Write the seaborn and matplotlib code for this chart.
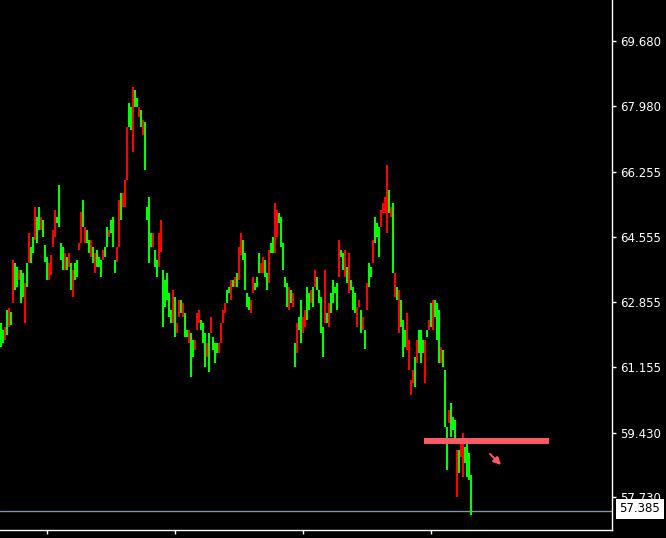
import numpy as np
import matplotlib
matplotlib.use("Agg")
import matplotlib.pyplot as plt
import matplotlib.transforms as mtransforms
import seaborn as sns

# candle extents (high / low) and direction, one per bar
bar_high = [62.30, 62.11, 62.19, 62.64, 62.69, 62.58, 63.95, 63.87, 63.76, 63.68,
            63.68, 63.61, 63.34, 63.87, 64.65, 64.29, 64.55, 65.33, 65.07, 65.33,
            65.07, 64.99, 64.34, 64.03, 63.87, 64.08, 64.73, 65.26, 65.07, 65.91,
            64.39, 64.29, 64.13, 64.03, 64.13, 63.87, 63.68, 63.87, 63.95, 64.39,
            65.20, 65.52, 64.81, 64.73, 64.47, 64.47, 64.29, 64.13, 64.21, 64.03,
            63.95, 64.21, 64.29, 64.81, 64.73, 64.99, 65.07, 63.95, 64.29, 65.52,
            65.70, 65.70, 66.04, 67.43, 68.06, 67.95, 68.48, 68.40, 68.19, 67.95,
            67.87, 67.61, 67.56, 65.33, 65.60, 64.65, 64.65, 64.21, 63.95, 64.65,
            64.99, 63.68, 63.42, 63.61, 63.08, 62.64, 63.16, 62.98, 62.30, 62.90,
            62.90, 62.82, 62.56, 62.11, 62.11, 62.04, 61.85, 61.85, 62.56, 62.64,
            62.38, 62.30, 62.04, 61.77, 62.04, 62.45, 61.93, 61.77, 61.77, 61.77,
            62.30, 62.64, 62.82, 63.16, 63.24, 63.42, 63.42, 63.50, 63.61, 64.29,
            64.65, 64.47, 64.13, 63.08, 62.98, 62.90, 63.50, 63.34, 63.50, 64.13,
            63.87, 64.03, 63.95, 63.61, 64.21, 64.39, 64.55, 65.44, 65.26, 65.18,
            65.07, 64.39, 63.50, 63.34, 63.24, 63.16, 63.08, 61.77, 62.30, 62.45,
            62.90, 62.45, 62.64, 63.24, 63.08, 63.16, 63.24, 63.68, 63.50, 63.16,
            62.98, 62.19, 63.68, 62.56, 62.82, 63.08, 63.42, 63.24, 63.34, 64.47,
            64.21, 64.13, 64.21, 63.76, 64.13, 63.42, 63.24, 63.08, 62.72, 62.90,
            62.64, 62.45, 62.11, 63.34, 63.87, 63.76, 64.47, 65.07, 64.92, 64.81,
            65.26, 65.44, 65.60, 66.43, 65.78, 65.33, 65.44, 63.61, 63.24, 63.16,
            62.90, 62.38, 62.11, 62.56, 61.85, 60.81, 61.07, 61.41, 61.85, 62.11,
            62.11, 61.85, 61.85, 62.11, 62.38, 62.82, 62.90, 62.90, 62.82, 62.64,
            61.67, 61.59, 61.07, 59.57, 60.02, 60.20, 59.84, 59.76, 58.97, 58.97,
            59.16, 59.42, 59.05, 59.16, 58.89, 58.32]

bar_low = [61.67, 61.77, 61.85, 61.98, 62.19, 62.24, 62.82, 63.16, 63.24, 63.42,
           62.82, 62.98, 62.30, 63.24, 63.87, 63.87, 64.13, 64.47, 64.39, 64.73,
           64.73, 64.55, 63.90, 63.42, 63.42, 63.55, 64.29, 64.55, 64.92, 64.81,
           63.95, 63.68, 63.68, 63.68, 63.76, 63.16, 62.98, 63.42, 63.50, 64.21,
           64.39, 64.81, 64.39, 64.39, 64.13, 64.03, 63.87, 63.61, 63.76, 63.76,
           63.50, 63.95, 64.03, 64.29, 64.55, 64.65, 64.29, 63.61, 63.90, 64.29,
           64.99, 65.33, 65.33, 66.04, 67.43, 67.35, 66.77, 67.95, 67.95, 67.69,
           67.43, 67.22, 66.30, 64.99, 63.87, 64.29, 64.29, 63.76, 63.50, 63.76,
           64.16, 62.19, 62.72, 62.90, 62.45, 62.30, 62.30, 61.93, 62.04, 62.45,
           62.56, 62.45, 61.93, 61.93, 61.77, 60.88, 61.41, 61.59, 62.11, 62.30,
           62.11, 61.77, 61.15, 61.41, 61.01, 62.04, 61.59, 61.25, 61.51, 61.51,
           61.77, 62.30, 62.56, 62.82, 63.08, 62.90, 63.24, 63.24, 63.24, 63.42,
           64.08, 63.95, 63.16, 62.72, 62.64, 62.56, 63.08, 63.16, 63.24, 63.61,
           63.61, 63.61, 63.50, 63.16, 63.34, 64.13, 64.13, 64.13, 64.55, 64.92,
           64.29, 63.68, 63.24, 62.72, 62.64, 62.82, 62.72, 61.15, 61.51, 62.11,
           61.77, 62.04, 62.19, 62.38, 62.64, 62.82, 62.72, 63.24, 63.16, 62.82,
           62.04, 61.41, 62.30, 62.30, 62.19, 62.56, 62.82, 63.08, 62.64, 63.50,
           64.03, 63.68, 63.50, 63.34, 63.08, 63.16, 62.64, 62.56, 62.19, 62.72,
           62.04, 62.11, 61.62, 62.64, 63.24, 63.50, 63.87, 64.39, 64.55, 64.03,
           64.81, 65.18, 65.18, 64.65, 65.18, 65.07, 63.61, 62.98, 62.90, 62.04,
           62.19, 61.41, 61.67, 61.59, 61.07, 60.41, 60.73, 60.62, 61.25, 61.51,
           61.25, 61.51, 60.73, 61.93, 62.11, 62.19, 62.11, 62.45, 61.85, 61.25,
           61.25, 61.15, 59.57, 58.45, 59.68, 59.31, 59.50, 59.23, 57.74, 58.37,
           58.79, 58.27, 58.63, 58.27, 58.19, 57.27]

# g = up candle, r = down candle
bar_dir = list("ggrgrgrggr" "ggrgrggrgg" "rgggrrrrgg" "ggrgrgrggr"
               "rgrggrgrgg" "grggrgggrr" "grrrggrggr" "grggggrggr"
               "rgggggrgrr" "grggrggrrr" "gggrgrgggr" "rrrggrgrgr"
               "rggggrrggg" "rrggrggrrg" "ggggrgrgrg" "grrggrgrgg"
               "ggrgrggggr" "ggrgrgggrr" "grgrggrggg" "rrrrgrgrgr"
               "gggrrrrgrg" "ggrgrgrggg" "rgggrgggrg" "rrgggg")

last_price = 57.385
level_price = 59.21
yticks = [57.730, 59.430, 61.155, 62.855, 64.555, 66.255, 67.980, 69.680]
xticks = [23, 87, 151, 215]

x = np.arange(len(bar_high))

sns.set_theme(style="dark", rc={"axes.facecolor": "black",
                                "figure.facecolor": "black",
                                "savefig.facecolor": "black"})

fig = plt.figure(figsize=(6.66, 5.38), dpi=100)
ax = fig.add_axes([0, 8 / 538, 612 / 666, 530 / 538])
ax.set_facecolor("black")

colours = ["#00ff00" if d == "g" else "#ff0000" for d in bar_dir]
ax.vlines(x, bar_low, bar_high, colors=colours, linewidth=1.5, zorder=2)

# current price line and its label
ax.axhline(last_price, color="#8394a6", linewidth=1, zorder=1)
trans = mtransforms.blended_transform_factory(ax.transAxes, ax.transData)
ax.text(1.012, last_price + 0.05, "57.385", transform=trans, ha="left",
        va="center", fontsize=8.5, color="black", zorder=10,
        bbox=dict(boxstyle="square,pad=0.3", fc="white", ec="none"))

# hand drawn level and arrow
ax.hlines(level_price, 211.5, 274, color="#fa5a64", linewidth=4.3, zorder=3)
ax.annotate("", xy=(251, 58.53), xytext=(243.5, 58.92),
            arrowprops=dict(arrowstyle="-|>", color="#fa5a64", lw=1.4,
                            mutation_scale=11), zorder=3)

ax.set_xlim(-0.5, 305.5)
ax.set_ylim(56.878, 70.753)

ax.yaxis.tick_right()
ax.set_yticks(yticks)
ax.set_yticklabels([f"{v:.3f}" for v in yticks])
ax.set_xticks(xticks)
ax.set_xticklabels([])
ax.tick_params(axis="y", which="both", direction="out", length=3, width=1,
               colors="white", labelsize=8.5, pad=3, right=True, left=False)
ax.tick_params(axis="x", direction="out", length=3, width=1, colors="white",
               bottom=True)
ax.grid(False)

for side in ["left", "top"]:
    ax.spines[side].set_visible(False)
for side in ["right", "bottom"]:
    ax.spines[side].set_visible(True)
    ax.spines[side].set_color("white")
    ax.spines[side].set_linewidth(1)

fig.savefig("out.png", dpi=100, facecolor="black")
